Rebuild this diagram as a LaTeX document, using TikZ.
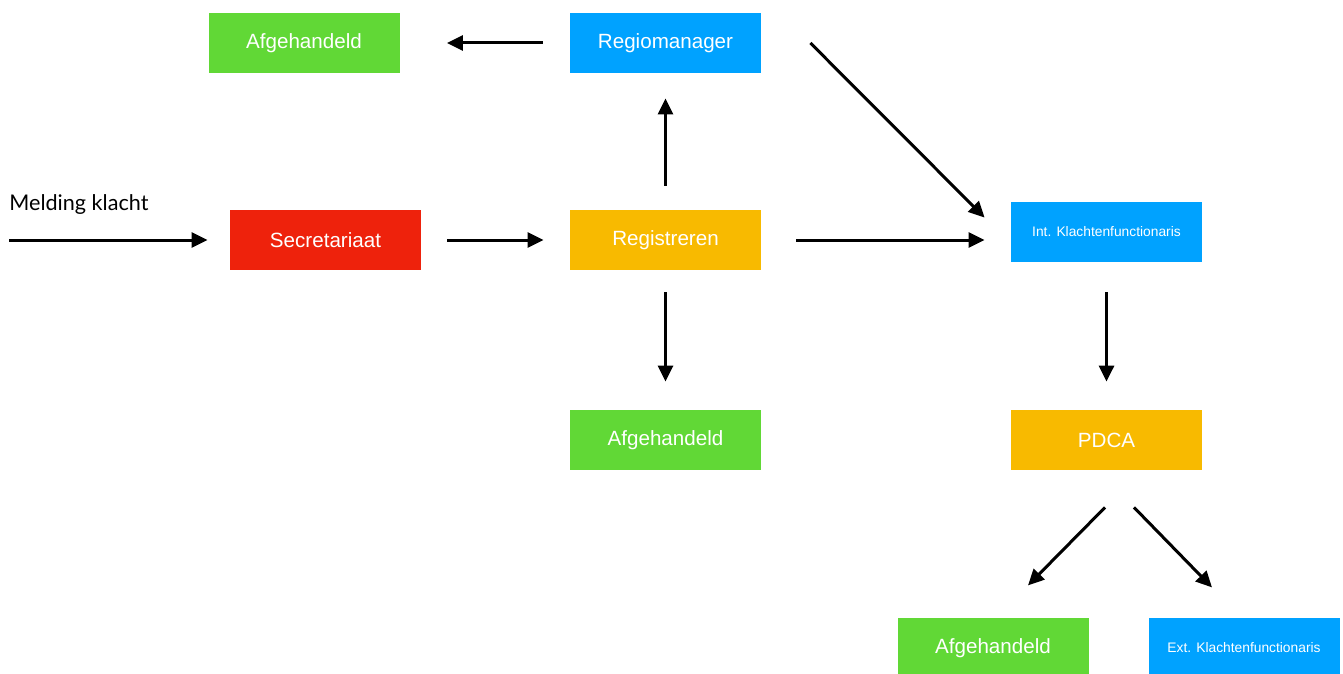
\documentclass[tikz,border=0pt]{standalone}
\usepackage{fontspec}
\setmainfont{Liberation Sans}
\newfontfamily\meldfont{Lato}
\usetikzlibrary{arrows.meta}
\definecolor{kngreen}{HTML}{61D836}
\definecolor{knblue}{HTML}{00A2FF}
\definecolor{knred}{HTML}{EE220C}
\definecolor{knyellow}{HTML}{F8BA00}
\tikzset{
	box/.style={minimum width=95.5pt,minimum height=30pt,inner sep=0pt,text=white,font=\fontsize{10.3}{11}\selectfont},
	smallbox/.style={box,font=\fontsize{6.9}{8}\selectfont},
	arr/.style={line width=1.5pt,-{Triangle[length=8pt,width=7.5pt]}}
}
\begin{document}
\begin{tikzpicture}[x=0.5pt,y=-0.5pt,line join=round]
		\useasboundingbox (0,0) rectangle (1343,674);
		%%%%%%%%%%%%%%%
		\node[box,fill=kngreen] (afg1) at (304,43) {Afgehandeld};
		\node[box,fill=knblue] (regio) at (665.5,43) {Regiomanager};
		\node[box,fill=knred] (secr) at (325.5,240) {Secretariaat};
		\node[box,fill=knyellow] (regis) at (665.5,240) {Registreren};
		\node[smallbox,fill=knblue] (intk) at (1106.5,232) {Int. Klachtenfunctionaris};
		\node[box,fill=kngreen] (afg2) at (665.5,440) {Afgehandeld};
		\node[box,fill=knyellow] (pdca) at (1106.5,440) {PDCA};
		\node[box,fill=kngreen] (afg3) at (993,648) {Afgehandeld};
		\node[smallbox,fill=knblue] (extk) at (1244,648) {Ext. Klachtenfunctionaris};
		%%%%%%%%%%%%%%%
		\node[anchor=base west,inner sep=0pt,font=\meldfont\fontsize{10.8}{12}\selectfont] (meld) at (9,210) {Melding klacht};
		\coordinate (start) at (9,240);
		\draw[arr,shorten >=11pt] (start) -- (secr.west);
		%%%%%%%%%%%%%%%
		\draw[arr,shorten <=13pt,shorten >=13pt] (secr) -- (regis);
		\draw[arr,shorten <=17.5pt,shorten >=13pt] (regis.east) -- (regis.east -| intk.west);
		\draw[arr,shorten <=12pt,shorten >=12.5pt] (regis) -- (regio);
		\draw[arr,shorten <=13.5pt,shorten >=23.5pt] (regio) -- (afg1);
		\draw[arr,shorten <=11pt,shorten >=14pt] (regis) -- (afg2);
		\draw[arr,shorten <=15pt,shorten >=14pt] (intk) -- (pdca);
		%%%%%%%%%%%%%%%
		\draw[arr] ([xshift=24.5pt]regio.east) -- ([xshift=-13pt,yshift=-8pt]intk.north west);
		\draw[arr] ([xshift=-0.75pt,yshift=-18.5pt]pdca.south) -- ([xshift=-39.25pt,yshift=-57.5pt]pdca.south);
		\draw[arr] ([xshift=13.75pt,yshift=-18.5pt]pdca.south) -- ([xshift=52.75pt,yshift=-58.5pt]pdca.south);
\end{tikzpicture}
\end{document}
